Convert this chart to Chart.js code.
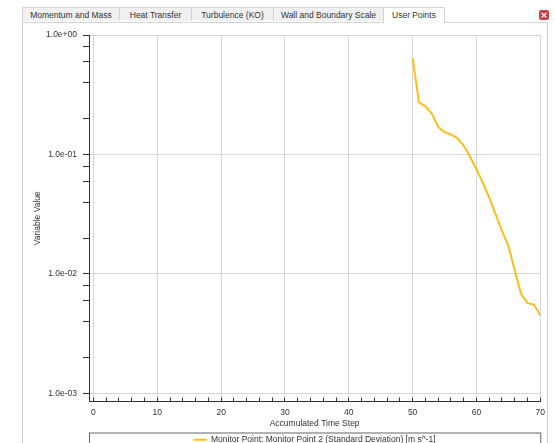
<!DOCTYPE html>
<html>
<head>
<meta charset="utf-8">
<script src="https://cdn.jsdelivr.net/npm/chart.js@4.4.1/dist/chart.umd.min.js"></script>
<style>
  html, body { margin: 0; padding: 0; background: #fff; overflow: hidden; width: 555px; height: 443px; }
  body { position: relative; font-family: "Liberation Sans", Arial, sans-serif; font-size: 8.5px; color: #333; }
  .tabs { position: absolute; left: 22px; top: 7px; height: 15px; }
  .tab { position: absolute; top: 0; height: 14px; line-height: 14px; text-align: center;
         background: #f0f0f0; border: 1px solid #d4d4d4; border-bottom: none; box-sizing: border-box; }
  .tab.active { background: #fff; height: 16px; }
  .panel { position: absolute; left: 22px; top: 22px; width: 526px; height: 430px;
           border-left: 1px solid #cfcfcf; border-right: 1px solid #cfcfcf; border-top: 1px solid #d4d4d4; box-sizing: border-box; }
  .close { position: absolute; left: 539px; top: 10px; width: 10px; height: 10px; background: #c9434b;
           border-radius: 2px; color: #fff; font: bold 9px/10px "DejaVu Sans", sans-serif; text-align: center; }
  #wrap { position: absolute; left: 22px; top: 22px; width: 533px; height: 432px; }
</style>
</head>
<body>
<div class="panel"></div>
<div class="tabs">
  <div class="tab" style="left:0;width:98px">Momentum and Mass</div>
  <div class="tab" style="left:97px;width:73px">Heat Transfer</div>
  <div class="tab" style="left:169px;width:83px">Turbulence (KO)</div>
  <div class="tab" style="left:251px;width:111px">Wall and Boundary Scale</div>
  <div class="tab active" style="left:361px;width:62px">User Points</div>
</div>
<div class="close">×</div>
<div id="wrap"><canvas id="monitorChart"></canvas></div>

<script>
// accumulated time steps and monitor values (log scale)
var timeSteps = [50, 51, 52, 53, 54, 55, 56, 57, 58, 59, 60, 61, 62, 63, 64, 65, 66, 67, 68, 69, 70];
var stdDev = [0.64, 0.273, 0.253, 0.22, 0.17, 0.154, 0.147, 0.137, 0.119, 0.096, 0.075, 0.058, 0.0435, 0.0316, 0.023, 0.0172, 0.0107, 0.0068, 0.0057, 0.00555, 0.0045];
var seriesLabel = 'Monitor Point: Monitor Point 2 (Standard Deviation) [m s^-1]';

var xTicks = [0, 2, 4, 6, 8, 10, 12, 14, 16, 18, 20, 22, 24, 26, 28, 30, 32, 34, 36, 38, 40, 42, 44, 46, 48, 50, 52, 54, 56, 58, 60, 62, 64, 66, 68, 70];
var yTicks = [0.001, 0.002, 0.004, 0.006, 0.008, 0.01, 0.02, 0.04, 0.06, 0.08, 0.1, 0.2, 0.4, 0.6, 0.8, 1];

var font = { family: 'Liberation Sans', size: 8.5 };

function isDecade(v) {
     var l = Math.log10(v);
     return Math.abs(l - Math.round(l)) < 1e-6;
}

function sciLabel(v) {
     var e = Math.round(Math.log10(v));
     var sign = e < 0 ? '-' : '+';
     var n = Math.abs(e);
     return '1.0e' + sign + (n < 10 ? '0' : '') + n;
}

// box round the legend, like the solver monitor window
const legendBox = {
     id: 'legendBox',
     afterDraw(chart) {
          const ctx = chart.ctx;
          const lg = chart.legend;
          const area = chart.chartArea;
          ctx.save();
          ctx.strokeStyle = '#666';
          ctx.lineWidth = 1;
          ctx.strokeRect(area.left + 0.5, lg.top + 0.5, area.right - area.left, 60);
          ctx.restore();
     }
};

const ctx = document.getElementById('monitorChart').getContext('2d');

new Chart(ctx, {
     type: 'line',
     data: {
          datasets: [
               {
                    label: seriesLabel,
                    data: timeSteps.map(function(s, i){ return { x: s, y: stdDev[i] }; }),
                    borderColor: '#FDBE1B',
                    backgroundColor: '#FDBE1B',
                    borderWidth: 2,
                    pointRadius: 0,
                    tension: 0,
                    fill: false
               }
          ]
     },
     options: {
          responsive: true,
          maintainAspectRatio: false,
          animation: false,
          layout: { padding: { left: 0, right: 0, top: 13, bottom: 0 } },
          plugins: {
               tooltip: { enabled: false },
               legend: {
                    position: 'bottom',
                    fullSize: false,
                    labels: {
                         usePointStyle: true,
                         pointStyle: 'line',
                         pointStyleWidth: 13,
                         boxHeight: 8,
                         padding: 3,
                         color: '#333',
                         font: font
                    }
               }
          },
          scales: {
               x: {
                    type: 'linear',
                    min: -0.7,
                    max: 70,
                    afterBuildTicks: function(scale){ scale.ticks = xTicks.map(function(v){ return { value: v }; }); },
                    afterFit: function(scale){ scale.height = 31; },
                    ticks: {
                         autoSkip: false,
                         maxRotation: 0,
                         padding: 10,
                         color: '#333',
                         font: font,
                         callback: function(v){ return v % 10 === 0 ? String(v) : ''; }
                    },
                    grid: {
                         color: function(c){ return c.tick && c.tick.value % 10 === 0 ? '#d6d6d6' : 'transparent'; },
                         tickColor: '#333',
                         tickLength: -4
                    },
                    border: { color: '#333', width: 1 },
                    title: {
                         display: true,
                         text: 'Accumulated Time Step',
                         color: '#333',
                         font: font,
                         padding: { top: 0, bottom: 4 }
                    }
               },
               y: {
                    type: 'logarithmic',
                    min: 0.000857,
                    max: 1,
                    afterBuildTicks: function(scale){ scale.ticks = yTicks.map(function(v){ return { value: v }; }); },
                    afterFit: function(scale){ scale.width = 67; },
                    ticks: {
                         autoSkip: false,
                         padding: 6,
                         color: '#333',
                         font: font,
                         callback: function(v){ return isDecade(v) ? sciLabel(v) : ''; }
                    },
                    grid: {
                         color: function(c){ return c.tick && isDecade(c.tick.value) ? '#d6d6d6' : 'transparent'; },
                         tickColor: '#333',
                         tickLength: 6
                    },
                    border: { color: '#333', width: 1 },
                    title: {
                         display: true,
                         text: 'Variable Value',
                         color: '#333',
                         font: font,
                         padding: { top: 11, bottom: 0 }
                    }
               }
          }
     },
     plugins: [legendBox]
});
</script>
</body>
</html>
